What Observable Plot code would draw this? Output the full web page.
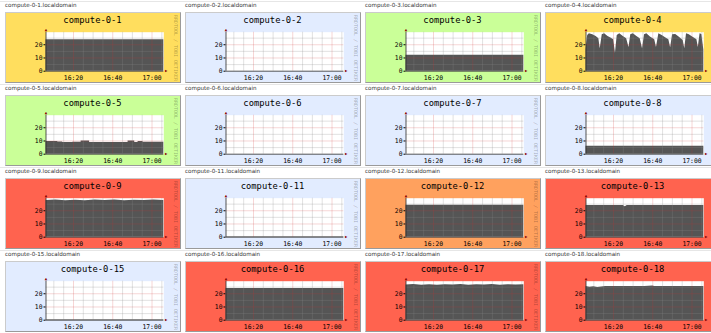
<!DOCTYPE html>
<html><head><meta charset="utf-8">
<script src="https://cdn.jsdelivr.net/npm/d3@7"></script>
<script src="https://cdn.jsdelivr.net/npm/@observablehq/plot@0.6"></script>
<style>
body{margin:0;background:#fff;}
#grid{position:relative;width:711px;height:333px;overflow:hidden;background:#fff;}
.cell{position:absolute;width:180px;height:83px;}
.rowline{position:absolute;left:0;width:711px;height:1px;background:#e6e6e6;}
.lbl{position:absolute;left:5px;top:2px;font:5.6px "DejaVu Sans",sans-serif;color:#333;white-space:nowrap;}
.box{position:absolute;left:5px;top:12px;width:176px;height:71px;border:1.5px solid;border-color:#cbcbcb #9a9a9a #9a9a9a #cbcbcb;box-sizing:border-box;}
.title{position:absolute;left:5px;width:175px;top:15px;text-align:center;font:8.8px "DejaVu Sans Mono",monospace;color:#000;white-space:nowrap;}
.wm{position:absolute;left:176px;top:48px;transform:translate(-50%,-50%) rotate(90deg);font:5px "DejaVu Sans Mono",monospace;color:rgba(0,0,0,0.3);white-space:nowrap;}
.cell svg{position:absolute;left:0;top:0;}
</style>
</head><body>
<div id="grid"></div>
<script>
const hosts = ["compute-0-1","compute-0-2","compute-0-3","compute-0-4",
  "compute-0-5","compute-0-6","compute-0-7","compute-0-8",
  "compute-0-9","compute-0-11","compute-0-12","compute-0-13",
  "compute-0-15","compute-0-16","compute-0-17","compute-0-18"];
const domainSuffix = ".localdomain";
const loadColors = ["#ffde5e","#e2ecff","#caff98","#ffde5e",
  "#caff98","#e2ecff","#e2ecff","#e2ecff",
  "#ff634f","#e2ecff","#ffa15e","#ff634f",
  "#e2ecff","#ff634f","#ff634f","#ff634f"];

// [minutes after 16:06, value]
const c01 = [[0,23.8],[60,23.8]];
const c02 = [[0,0],[60,0]];
const c03 = [[0,12],[60,12]];
const c04 = [[0,16.2],[0.86,27],[1.72,28.3],[3.45,27.5],[5.17,26.3],[6.55,24.5],[7.24,17],[8.28,27.5],[9.48,28.3],[11.2,26.3],[12.9,25],[14.1,23.7],[15.0,13.6],[15.9,27],[17.2,28.3],[19.0,26.3],[20.7,24.5],[21.9,18],[22.8,27.5],[24.1,28.3],[25.9,26.3],[27.6,24.5],[28.8,17],[29.8,27.5],[31.0,28.3],[32.8,25.8],[35.0,23.7],[35.9,18],[37.1,28.3],[38.8,27],[40.5,25.3],[42.2,23.7],[43.1,17.7],[44.1,27.5],[45.7,27.8],[47.4,25.8],[49.5,23.2],[50.3,17],[51.2,28.3],[52.6,27.5],[54.3,25.8],[56.5,23.7],[57.2,18],[58.1,28.3],[59.0,27.8],[60,16.2]];
const c05 = [[0,9.7],[6,9.7],[6,9.2],[8.5,9.2],[8.5,8.8],[13.6,8.8],[13.6,9.0],[17.9,9.0],[17.9,9.9],[22.2,9.9],[22.2,8.8],[41.8,8.8],[41.8,9.9],[45.2,9.9],[45.2,8.8],[46.9,8.8],[46.9,9.7],[49.4,9.7],[49.4,9.0],[60,9.0]];
const c06 = [[0,0],[60,0]];
const c07 = [[0,0],[60,0]];
const c08 = [[0,6],[60,6]];
const c09 = [[0,27.8],[5,28.2],[10,27.6],[15,28],[20,27.5],[25,28.1],[30,27.7],[35,28.2],[40,27.6],[45,28],[50,27.8],[55,28.1],[60,27.7]];
const c11 = [[0,0.4],[60,0.4]];
const c12 = [[0,24.2],[60,24.2]];
const c13 = [[0,24],[19,24],[20,23],[21,24],[60,24]];
const c15 = [[0,0.4],[60,0.4]];
const c16 = [[0,24],[60,24]];
const c17 = [[0,26.6],[4,27],[8,26.5],[12,26.9],[16,26.4],[20,26.9],[24,26.6],[28,27],[32,26.5],[36,26.9],[40,26.6],[44,27],[48,26.5],[52,26.9],[56,26.6],[60,26.8]];
const c18 = [[0,25.5],[2,25],[4,25.3],[6,24.7],[8,25.2],[10,25.5],[30,25.5],[34,25.8],[35,25.5],[60,25.5]];
const series = [c01,c02,c03,c04,c05,c06,c07,c08,c09,c11,c12,c13,c15,c16,c17,c18];

const startTime = "16:06", endTime = "17:06";
const xTickTimes = ["16:20","16:40","17:00"];
const minorGridTimes = ["16:10","16:15","16:25","16:30","16:35","16:45","16:50","16:55","17:05"];
const yTicks = [0,10,20];
const minorGridY = [5,15,25];
const majorGridY = [10,20];
const yMax = 29.5;
const watermark = "RRDTOOL / TOBI OETIKER";

const parseT = s => { const [h,m] = s.split(":").map(Number); return new Date(2012,0,1,h,m); };
const t0 = parseT(startTime), t1 = parseT(endTime);
const fmt = d3.timeFormat("%H:%M");

const grid = document.getElementById("grid");
hosts.forEach((h,i) => {
  const col = i % 4, row = Math.floor(i/4);
  const cell = document.createElement("div");
  cell.className = "cell";
  cell.style.left = (col*180) + "px";
  cell.style.top = (row*83) + "px";
  const box = document.createElement("div");
  box.className = "box"; box.style.background = loadColors[i];
  cell.appendChild(box);
  const lbl = document.createElement("div"); lbl.className = "lbl"; lbl.textContent = h + domainSuffix;
  cell.appendChild(lbl);
  const data = series[i].map(([m,v]) => ({t: new Date(+t0 + m*60000), v}));
  const svg = Plot.plot({
    width:180, height:83,
    marginLeft:45.5, marginRight:16.7, marginTop:31.7, marginBottom:12.3,
    style:{background:"transparent", fontFamily:"'DejaVu Sans Mono', monospace", fontSize:"6.4px", color:"#000", overflow:"visible"},
    x:{type:"time", domain:[t0,t1], ticks:xTickTimes.map(parseT), tickFormat:fmt, tickSize:0, tickPadding:3.8, label:null},
    y:{domain:[0,yMax], ticks:yTicks, tickSize:2, tickPadding:1.5, label:null},
    marks:[
      Plot.frame({fill:"white", stroke:"none"}),
      Plot.areaY(data, {x:"t", y1:d => 0, y2:"v", fill:"#555555"}),
      Plot.ruleX(minorGridTimes.map(parseT), {stroke:"#8c8c8c", strokeOpacity:0.25}),
      Plot.ruleY(minorGridY, {stroke:"#8c8c8c", strokeOpacity:0.25}),
      Plot.ruleX(xTickTimes.map(parseT), {stroke:"#d03030", strokeOpacity:0.2}),
      Plot.ruleY(majorGridY, {stroke:"#d03030", strokeOpacity:0.2}),
      Plot.ruleX([t0], {stroke:"#2c2c2c", strokeWidth:0.8}),
      Plot.ruleY([0], {stroke:"#2c2c2c", strokeWidth:0.8}),
      Plot.text([t0], {x:d=>d, y:()=>yMax, text:()=>"▲", dy:-2.5, fill:"#8b0000", fontSize:4}),
      Plot.text([t1], {x:d=>d, y:()=>0, text:()=>"▶", dx:2.5, fill:"#8b0000", fontSize:4})
    ]
  });
  cell.appendChild(svg);
  const title = document.createElement("div"); title.className = "title"; title.textContent = h;
  cell.appendChild(title);
  if (col < 3) {
    const wm = document.createElement("div"); wm.className = "wm"; wm.textContent = watermark;
    cell.appendChild(wm);
  }
  grid.appendChild(cell);
});
[0,1,2,3].forEach(r => { const l = document.createElement("div"); l.className="rowline"; l.style.top=(r*83+1)+"px"; grid.appendChild(l); });
</script>
</body></html>
